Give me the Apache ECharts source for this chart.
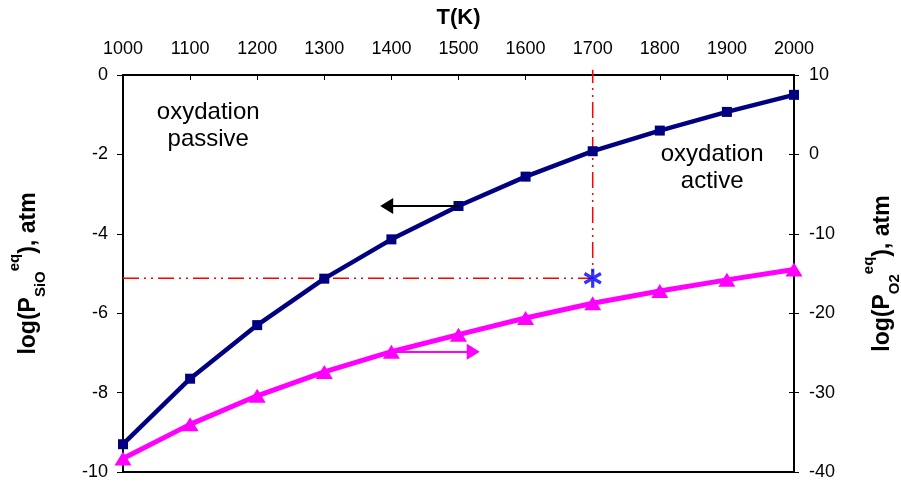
<!DOCTYPE html>
<html><head><meta charset="utf-8">
<script src="https://cdn.jsdelivr.net/npm/echarts@6/dist/echarts.min.js"></script>
<style>html,body{margin:0;padding:0;background:#fff}#c{width:901px;height:485px}</style>
</head><body><div id="c"></div>
<script>
// ---- data ----
const temperatures = [1000, 1100, 1200, 1300, 1400, 1500, 1600, 1700, 1800, 1900, 2000];
const logPSiO = [-9.3, -7.65, -6.3, -5.13, -4.14, -3.3, -2.56, -1.92, -1.40, -0.93, -0.50];
const logPO2 = [-38.3, -34.0, -30.4, -27.4, -24.85, -22.7, -20.6, -18.75, -17.2, -15.8, -14.5];
const tempTicks = [1000, 1100, 1200, 1300, 1400, 1500, 1600, 1700, 1800, 1900, 2000];
const siOTicks = [0, -2, -4, -6, -8, -10];
const o2Ticks = [10, 0, -10, -20, -30, -40];
// reference point (T = 1700 K, log PSiO = -5.12) and guide line
const refT = 1700;
const refLogPSiO = -5.12;
const refGuide = [[1000, -5.12], [1700, -5.12], [1700, 0.13]];
// arrows: [start, end] in axis units
const arrowSiO = [[1502, -3.3], [1393, -3.3]];
const arrowO2 = [[1400, -24.85], [1522, -24.85]];
// annotation anchors (T, log PSiO)
const notePassive = [1127, -1.28];
const noteActive = [1878, -2.34];

const FONT = '"Liberation Sans", Arial, sans-serif';
const nameRich = {
  m: { fontSize: 23, fontWeight: 'bold', fontFamily: FONT, color: '#000', verticalAlign: 'top', padding: [11, 0, 0, 0] },
  sub: { fontSize: 15, fontWeight: 'bold', fontFamily: FONT, color: '#000', verticalAlign: 'top', padding: [27, 0, 0, 0] },
  sup: { fontSize: 15, fontWeight: 'bold', fontFamily: FONT, color: '#000', verticalAlign: 'top', padding: [1, 0, 0, 0] }
};
const asterisk = 'path://M-1.7,-10L1.7,-10L1.7,10L-1.7,10Z' +
  'M-9.51,-3.53L-7.81,-6.47L9.51,3.53L7.81,6.47Z' +
  'M-7.81,6.47L-9.51,3.53L7.81,-6.47L9.51,-3.53Z';

const chart = echarts.init(document.getElementById('c'), null, { renderer: 'canvas' });
const tickLabel = { fontSize: 18, fontFamily: FONT, color: '#000' };
const option = {
  animation: false,
  backgroundColor: '#fff',
  grid: { left: 123, right: 107, top: 75, bottom: 13, outerBoundsMode: 'none', containLabel: false, show: true, borderColor: '#000', borderWidth: 2, backgroundColor: 'transparent' },
  xAxis: {
    type: 'value', position: 'top', min: tempTicks[0], max: tempTicks[tempTicks.length - 1], interval: 100,
    name: 'T(K)', nameLocation: 'middle', nameGap: 46,
    nameTextStyle: { fontSize: 22, fontWeight: 'bold', fontFamily: FONT, color: '#000' },
    axisLine: { show: true, lineStyle: { color: '#000', width: 2 } },
    axisTick: { show: true, inside: true, length: 5, lineStyle: { color: '#000', width: 1 } },
    axisLabel: { ...tickLabel, margin: 17, formatter: v => String(v) },
    splitLine: { show: false }
  },
  yAxis: [
    {
      type: 'value', position: 'left', min: siOTicks[siOTicks.length - 1], max: siOTicks[0], interval: 2,
      name: '{m|log(P}{sub|SiO}{sup|eq}{m|), atm}', nameLocation: 'middle', nameRotate: 90, nameGap: 75,
      nameTextStyle: { rich: nameRich },
      axisLine: { show: true, onZero: false, lineStyle: { color: '#000', width: 2 } },
      axisTick: { show: true, length: 6, lineStyle: { color: '#000', width: 1 } },
      axisLabel: { ...tickLabel, margin: 15 },
      splitLine: { show: false }
    },
    {
      type: 'value', position: 'right', min: o2Ticks[o2Ticks.length - 1], max: o2Ticks[0], interval: 10,
      name: '{m|log(P}{sub|O2}{sup|eq}{m|), atm}', nameLocation: 'middle', nameRotate: 90, nameGap: 66,
      nameTextStyle: { rich: nameRich },
      axisLine: { show: true, onZero: false, lineStyle: { color: '#000', width: 2 } },
      axisTick: { show: true, length: 5, lineStyle: { color: '#000', width: 1 } },
      axisLabel: { ...tickLabel, margin: 15 },
      splitLine: { show: false }
    },
    {
      type: 'value', position: 'right', min: o2Ticks[o2Ticks.length - 1], max: o2Ticks[0], interval: 10,
      axisLine: { show: false },
      axisTick: { show: true, inside: true, length: 5, lineStyle: { color: '#000', width: 1 } },
      axisLabel: { show: false },
      splitLine: { show: false }
    }
  ],
  series: [
    {
      name: 'guide', type: 'line', yAxisIndex: 0, data: refGuide, symbol: 'none', clip: false, z: 1,
      lineStyle: { color: '#FF0000', width: 1.5, type: [16, 5, 2, 5, 2, 5] }
    },
    {
      name: 'PSiO', type: 'line', yAxisIndex: 0,
      data: temperatures.map((t, i) => [t, logPSiO[i]]),
      symbol: 'rect', symbolSize: 10, clip: false, z: 3,
      lineStyle: { color: '#000080', width: 4.5 }, itemStyle: { color: '#000080' },
      markLine: {
        silent: true, symbol: ['none', 'triangle'], symbolSize: [16, 13], label: { show: false },
        lineStyle: { color: '#000', width: 2, type: 'solid' },
        data: [[{ coord: arrowSiO[0] }, { coord: arrowSiO[1] }]]
      }
    },
    {
      name: 'PO2', type: 'line', yAxisIndex: 1,
      data: temperatures.map((t, i) => [t, logPO2[i]]),
      symbol: 'triangle', symbolSize: [17, 14], clip: false, z: 3,
      lineStyle: { color: '#FF00FF', width: 5 }, itemStyle: { color: '#FF00FF' },
      markLine: {
        silent: true, symbol: ['none', 'triangle'], symbolSize: [16, 13], label: { show: false },
        lineStyle: { color: '#FF00FF', width: 2, type: 'solid' },
        data: [[{ coord: arrowO2[0] }, { coord: arrowO2[1] }]]
      }
    },
    {
      name: 'ref', type: 'scatter', yAxisIndex: 0, data: [[refT, refLogPSiO]],
      symbol: asterisk, symbolSize: 19, symbolKeepAspect: true, z: 4,
      itemStyle: { color: '#0000FF' }
    }
  ]
};
chart.setOption(option);

function note(anchor, text) {
  const p = chart.convertToPixel({ xAxisIndex: 0, yAxisIndex: 0 }, anchor);
  return {
    type: 'text', x: p[0], y: p[1], z: 10,
    style: { text: text, fontSize: 24, fontFamily: FONT, fill: '#000', align: 'center', verticalAlign: 'middle', lineHeight: 27 }
  };
}
chart.setOption({ graphic: [note(notePassive, 'oxydation\npassive'), note(noteActive, 'oxydation\nactive')] });
</script></body></html>
